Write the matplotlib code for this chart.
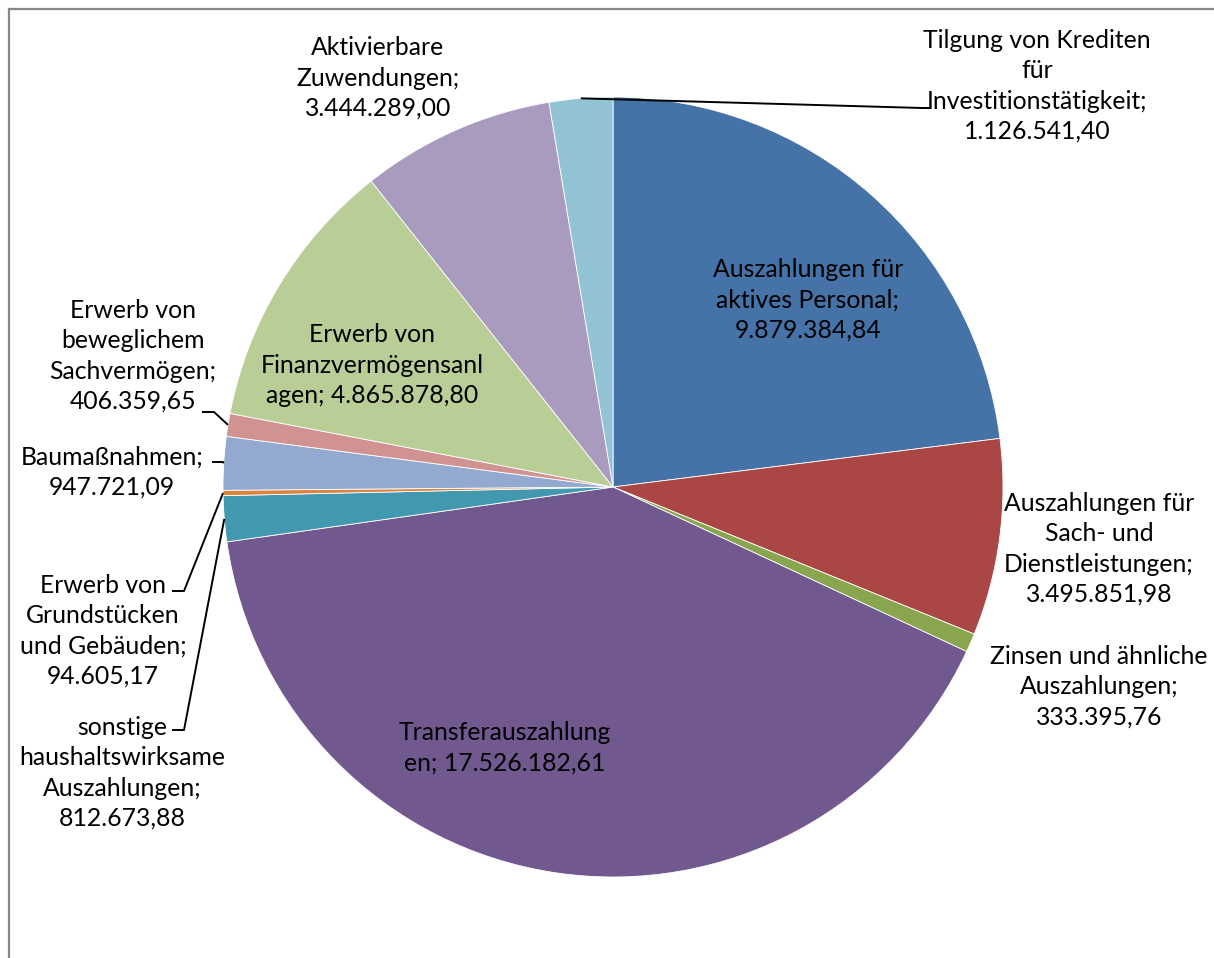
import numpy as np
import matplotlib
matplotlib.use("Agg")
import matplotlib.pyplot as plt
from matplotlib.lines import Line2D

names = [
    "Auszahlungen für\naktives Personal",
    "Auszahlungen für\nSach- und\nDienstleistungen",
    "Zinsen und ähnliche\nAuszahlungen",
    "Transferauszahlung\nen",
    "sonstige\nhaushaltswirksame\nAuszahlungen",
    "Erwerb von\nGrundstücken\nund Gebäuden",
    "Baumaßnahmen",
    "Erwerb von\nbeweglichem\nSachvermögen",
    "Erwerb von\nFinanzvermögensanl\nagen",
    "Aktivierbare\nZuwendungen",
    "Tilgung von Krediten\nfür\nInvestitionstätigkeit",
]
values = [9879384.84, 3495851.98, 333395.76, 17526182.61, 812673.88, 94605.17,
          947721.09, 406359.65, 4865878.80, 3444289.00, 1126541.40]
value_sep = ["\n", "\n", "\n", " ", "\n", "\n", "\n", "\n", " ", "\n", "\n"]
colors = ["#4572A7", "#AA4643", "#89A54E", "#71588F", "#4198AF", "#DB843D",
          "#93A9CF", "#D19392", "#B9CD96", "#A99BBD", "#92C3D5"]


def fmt_de(v):
    return f"{v:,.2f}".replace(",", "X").replace(".", ",").replace("X", ".")


W, H = 1214, 958
fig = plt.figure(figsize=(W / 100, H / 100), dpi=100)
ax = fig.add_axes([0, 0, 1, 1])

cx, cy, r = 613, H - 487, 390
wedges, _ = ax.pie(values, colors=colors, startangle=90, counterclock=False,
                   center=(cx, cy), radius=r, frame=True,
                   wedgeprops=dict(edgecolor="white", linewidth=0.6))
ax.set_xlim(0, W)
ax.set_ylim(0, H)
ax.set_aspect("equal")
ax.axis("off")

# label centres in pixels (from top-left)
label_pos = [(808, 300), (1099, 549), (1099, 687), (505, 748), (122, 773),
             (103, 631), (112, 472), (133, 356), (372, 365), (378, 78), (1037, 86)]
# leader lines: index -> (x at text, x elbow, y) in pixels
leaders = {4: (172, 184, 730), 5: (172, 184, 591), 6: (212, 223, 462),
           7: (202, 214, 412), 10: (930, 922, 108)}

for i, (name, v) in enumerate(zip(names, values)):
    x, y = label_pos[i]
    ax.text(x, H - y, name + ";" + value_sep[i] + fmt_de(v), ha="center", va="center",
            fontsize=17.8, family="Lato", linespacing=1.38, color="black")
    if i in leaders:
        w = wedges[i]
        mid = np.deg2rad((w.theta1 + w.theta2) / 2)
        px, py = cx + r * np.cos(mid), cy + r * np.sin(mid)
        xt, xe, ly = leaders[i]
        ax.plot([xt, xe, px], [H - ly, H - ly, py], color="black", lw=1.4,
                solid_capstyle="butt")

# chart area border (left and top)
fig.add_artist(Line2D([8.5 / W, 8.5 / W], [0, 1 - 8.5 / H], color="#868686", lw=1.6,
                      transform=fig.transFigure))
fig.add_artist(Line2D([8.5 / W, 1], [1 - 8.5 / H, 1 - 8.5 / H], color="#868686", lw=1.6,
                      transform=fig.transFigure))

fig.savefig("out.png", dpi=100)
